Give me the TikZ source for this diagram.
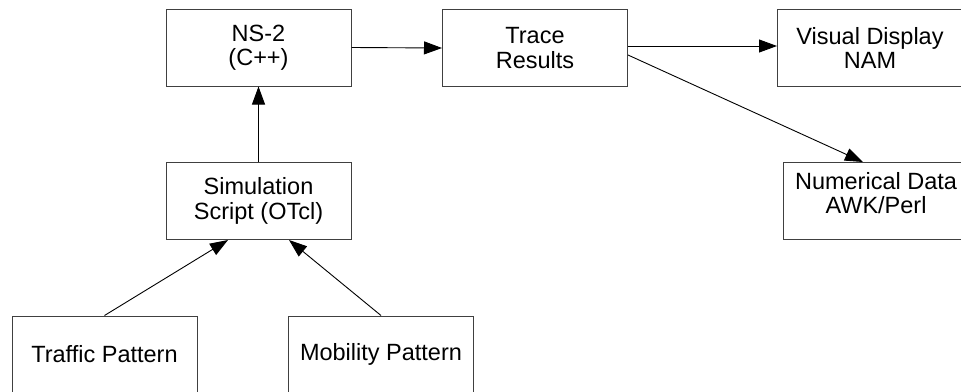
\documentclass[tikz,border=0pt]{standalone}
\usepackage{fontspec}
\setmainfont{Liberation Sans}
\usetikzlibrary{arrows.meta}
\tikzset{
  blockbox/.style={draw=black!75, line width=1pt, fill=white, align=center,
    minimum width=185pt, minimum height=77pt, inner sep=0pt,
    font=\fontsize{23.5}{24.5}\selectfont},
  labeltext/.style={align=center, inner sep=0pt,
    font=\fontsize{23.5}{24.5}\selectfont},
  flow/.style={draw=black, line width=0.9pt,
    -{Triangle[length=18pt,width=13pt]}}
}
\begin{document}
\begin{tikzpicture}[x=1pt,y=-1pt]
  \useasboundingbox (0,0) rectangle (961,391);
  \fill[white] (0,0) rectangle (961,391);
  \clip (0,0) rectangle (961,391);

  % blocks
  \node[blockbox] (ns)       at (258.5,47.5)  {NS-2\\(C++)};
  \node[blockbox] (trace)    at (535,48)      {Trace\\Results};
  \node[blockbox] (visual)   at (870,48)      {Visual Display\\NAM};
  \node[blockbox] (num)      at (876,201)     {};
  \node[labeltext] (numtext) at (876,193)     {Numerical Data\\AWK/Perl};
  \node[blockbox] (sim)      at (258.5,201)   {Simulation\\Script (OTcl)};
  \node[blockbox] (traffic)  at (104.5,354.5) {Traffic Pattern};
  \node[blockbox] (mobility) at (381,354.5)   {Mobility Pattern};

  % connectors
  \draw[flow] (ns.east) -- (trace.west);
  \draw[flow] ([yshift=2pt]trace.east) -- ([yshift=2pt]visual.west);
  \draw[flow] ([yshift=-7pt]trace.east) -- ([xshift=-13pt]num.north);
  \draw[flow] (sim.north) -- (ns.south);
  \draw[flow] (traffic.north) -- ([xshift=-30.5pt]sim.south);
  \draw[flow] (mobility.north) -- ([xshift=30.5pt]sim.south);
\end{tikzpicture}
\end{document}
